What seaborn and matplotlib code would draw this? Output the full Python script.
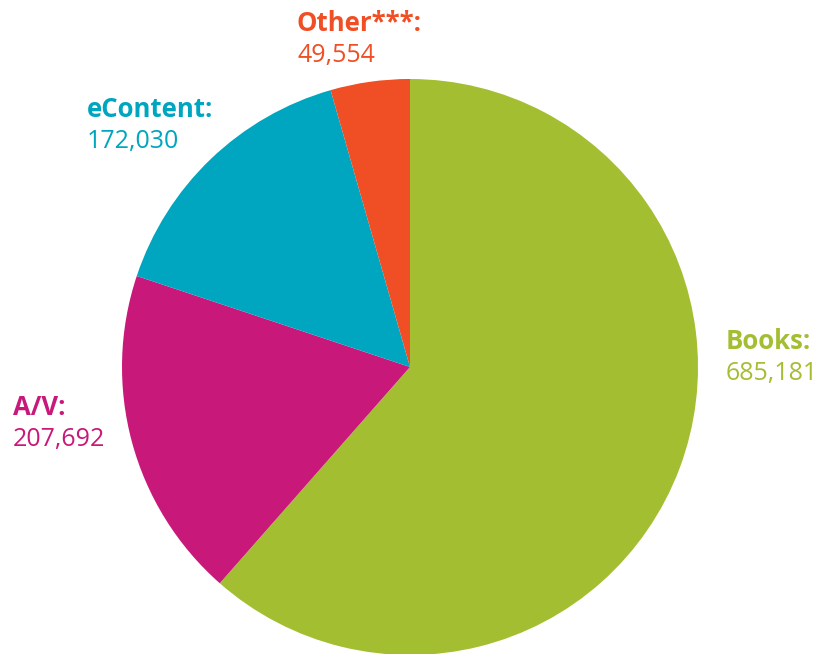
import matplotlib.pyplot as plt
import seaborn as sns

# Circulation by material type
categories = ["Books", "A/V", "eContent", "Other***"]
values = [685181, 207692, 172030, 49554]
colors = ["#A4BE32", "#C8197B", "#00A5BF", "#F04E24"]

sns.set_style("white")
plt.rcParams["font.family"] = ["Open Sans", "DejaVu Sans"]

W, H = 837, 654
fig = plt.figure(figsize=(W / 100, H / 100), dpi=100)

# pie centre ~ (410, 367) px, radius ~ 288 px
cx, cy, r = 410, 367, 288
ax = fig.add_axes([(cx - r) / W, 1 - (cy + r) / H, 2 * r / W, 2 * r / H])
ax.pie(values, colors=colors, startangle=90, counterclock=False,
       wedgeprops={"linewidth": 0})
ax.set_xlim(-1, 1)
ax.set_ylim(-1, 1)
ax.set_aspect("equal")
ax.axis("off")

# label anchor points (left edge, baseline of the name) in pixels
label_pos = {
    "Books": (726, 349),
    "A/V": (13, 415),
    "eContent": (87, 117),
    "Other***": (297, 31),
}

for name, val, col in zip(categories, values, colors):
    x, y = label_pos[name]
    fig.text(x / W, 1 - y / H, f"{name}:", color=col, fontsize=18.5,
             fontweight="bold", ha="left", va="baseline")
    fig.text(x / W, 1 - (y + 31) / H, f"{val:,}", color=col, fontsize=18,
             ha="left", va="baseline")

fig.savefig("out.png", dpi=100)
